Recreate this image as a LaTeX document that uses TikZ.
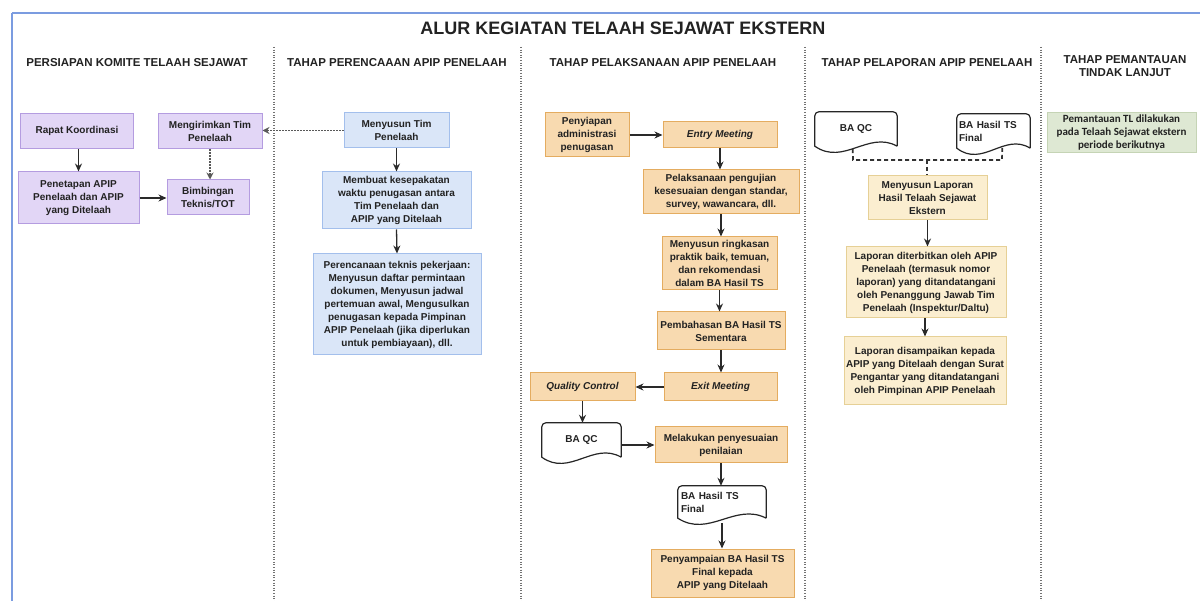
\documentclass[tikz,border=0pt]{standalone}
\usepackage{fontspec}
\setmainfont{Liberation Sans}
\newfontfamily\calib{Carlito}
\usetikzlibrary{arrows.meta,calc}
\definecolor{pfill}{HTML}{E2D6F6}
\definecolor{pline}{HTML}{B49CE0}
\definecolor{bfill}{HTML}{DAE6F8}
\definecolor{bline}{HTML}{A3BFEC}
\definecolor{ofill}{HTML}{F8DAB0}
\definecolor{oline}{HTML}{E4AC60}
\definecolor{yfill}{HTML}{FBEED0}
\definecolor{yline}{HTML}{E6D096}
\definecolor{gfill}{HTML}{DEE8D3}
\definecolor{gline}{HTML}{C5D4B5}
\definecolor{framec}{HTML}{7B9CE0}
\definecolor{txt}{HTML}{222222}
\definecolor{arrc}{HTML}{2A2A2A}
\newcommand\bxfont{\bfseries\fontsize{10}{13}\selectfont}
\newcommand\hdfont{\bfseries\fontsize{11.5}{13.5}\selectfont}
\newcommand\docout[1]{\draw[docline] (#1.south east) [rounded corners=4pt] -- (#1.north east) -- (#1.north west) [sharp corners] -- (#1.south west) .. controls ($(#1.south west)!0.35!(#1.south east)+(0,20)$) and ($(#1.south west)!0.65!(#1.south east)+(0,-16)$) .. (#1.south east);}
\tikzset{
  box/.style={draw, line width=1pt, align=center, font=\bxfont, text=txt, inner sep=2pt},
  pbox/.style={box, fill=pfill, draw=pline},
  bbox/.style={box, fill=bfill, draw=bline},
  obox/.style={box, fill=ofill, draw=oline},
  ybox/.style={box, fill=yfill, draw=yline},
  gbox/.style={box, fill=gfill, draw=gline, font=\calib\bfseries\fontsize{11}{13}\selectfont},
  docnode/.style={draw=none, font=\bxfont, text=txt, inner sep=2pt},
  docline/.style={draw=black!85, line width=1.2pt},
  arr/.style={draw=arrc, line width=1.3pt, -{Stealth[length=8pt,width=7pt]}},
  dotarr/.style={draw=black!65, line width=1.2pt, dash pattern=on 1.5pt off 1.5pt, -{Stealth[length=7pt,width=7pt]}},
  dashcon/.style={draw=black!80, line width=1.7pt, dash pattern=on 4pt off 3pt},
  divider/.style={draw=black!55, line width=1.1pt, dash pattern=on 1pt off 1.6pt},
  frameline/.style={draw=framec, line width=1.5pt},
  hdr/.style={font=\hdfont, text=txt, align=center}
}
\begin{document}
\begin{tikzpicture}[x=1pt,y=-1pt]
\useasboundingbox (0,0) rectangle (1200,601);
\fill[white] (0,0) rectangle (1200,601);
% frame and dividers
\draw[frameline] (12,13) -- (1200,13);
\draw[frameline] (12,13) -- (12,601);
\draw[divider] (274,47) -- (274,601);
\draw[divider] (521,47) -- (521,601);
\draw[divider] (805,47) -- (805,601);
\draw[divider] (1041,47) -- (1041,601);
% title and headers
\node[font=\bfseries\fontsize{18}{20}\selectfont, text=txt] (title) at (623,28) {ALUR KEGIATAN TELAAH SEJAWAT EKSTERN};
\node[hdr] (h1) at (137,63) {PERSIAPAN KOMITE TELAAH SEJAWAT};
\node[hdr] (h2) at (397,63) {TAHAP PERENCAAAN APIP PENELAAH};
\node[hdr] (h3) at (663,63) {TAHAP PELAKSANAAN APIP PENELAAH};
\node[hdr] (h4) at (927,63) {TAHAP PELAPORAN APIP PENELAAH};
\node[hdr] (h5) at (1125,66) {TAHAP PEMANTAUAN\\TINDAK LANJUT};
% lane 1
\node[pbox, minimum width=113, minimum height=35] (rk) at (77,131) {Rapat Koordinasi};
\node[pbox, minimum width=104, minimum height=35] (mt) at (210,131.5) {Mengirimkan Tim\\Penelaah};
\node[pbox, minimum width=121, minimum height=52] (pa) at (78.5,198) {Penetapan APIP\\Penelaah dan APIP\\yang Ditelaah};
\node[pbox, minimum width=82, minimum height=35] (bt) at (208,197.5) {Bimbingan\\Teknis/TOT};
% lane 2
\node[bbox, minimum width=105, minimum height=35] (mtp) at (396.5,130.5) {Menyusun Tim\\Penelaah};
\node[bbox, minimum width=149, minimum height=57] (mk) at (396.5,200.5) {Membuat kesepakatan\\waktu penugasan antara\\Tim Penelaah dan\\APIP yang Ditelaah};
\node[bbox, minimum width=168, minimum height=101] (pt) at (397,304.5) {Perencanaan teknis pekerjaan:\\Menyusun daftar permintaan\\dokumen, Menyusun jadwal\\pertemuan awal, Mengusulkan\\penugasan kepada Pimpinan\\APIP Penelaah (jika diperlukan\\untuk pembiayaan), dll.};
% lane 3
\node[obox, minimum width=84, minimum height=44] (pap) at (587,135) {Penyiapan\\administrasi\\penugasan};
\node[obox, minimum width=114, minimum height=26] (em) at (720,135) {\itshape Entry Meeting};
\node[obox, minimum width=156, minimum height=44] (pp) at (721,192) {Pelaksanaan pengujian\\kesesuaian dengan standar,\\survey, wawancara, dll.};
\node[obox, minimum width=115, minimum height=53] (mr) at (719.5,263.5) {Menyusun ringkasan\\praktik baik, temuan,\\dan rekomendasi\\dalam BA Hasil TS};
\node[obox, minimum width=128, minimum height=38] (pb) at (721,331) {Pembahasan BA Hasil TS\\Sementara};
\node[obox, minimum width=113, minimum height=28] (xm) at (720.5,387) {\itshape Exit Meeting};
\node[obox, minimum width=105, minimum height=28] (qc) at (582.5,387) {\itshape Quality Control};
\node[docnode, minimum width=79, minimum height=34] (bqc) at (581.5,440) {BA QC};
\docout{bqc}
\node[obox, minimum width=132, minimum height=36] (ms) at (721,445) {Melakukan penyesuaian\\penilaian};
\node[docnode, minimum width=88, minimum height=32, text width=82, align=left] (baf) at (722,502) {BA Hasil TS\\Final};
\docout{baf}
\node[obox, minimum width=143, minimum height=48] (ps) at (722.5,573) {Penyampaian BA Hasil TS\\Final kepada\\APIP yang Ditelaah};
% lane 4
\node[docnode, minimum width=82, minimum height=34] (bq2) at (856,129) {BA QC};
\docout{bq2}
\node[docnode, minimum width=73, minimum height=34, text width=69, align=left] (bf2) at (993.5,131) {BA Hasil TS\\Final};
\docout{bf2}
\node[ybox, minimum width=119, minimum height=44] (ml) at (927.5,198) {Menyusun Laporan\\Hasil Telaah Sejawat\\Ekstern};
\node[ybox, minimum width=160, minimum height=71] (ld) at (926,282.5) {Laporan diterbitkan oleh APIP\\Penelaah (termasuk nomor\\laporan) yang ditandatangani\\oleh Penanggung Jawab Tim\\Penelaah (Inspektur/Daltu)};
\node[ybox, minimum width=162, minimum height=68] (ls) at (925,371) {Laporan disampaikan kepada\\APIP yang Ditelaah dengan Surat\\Pengantar yang ditandatangani\\oleh Pimpinan APIP Penelaah};
% lane 5
\node[gbox, minimum width=149, minimum height=40] (pm) at (1121.5,133) {Pemantauan TL dilakukan\\pada Telaah Sejawat ekstern\\periode berikutnya};
% connectors lane 1/2
\draw[arr] (rk.south -| pa.north) -- (pa.north);
\draw[arr] (pa.east) -- (pa.east -| bt.west);
\draw[dotarr] (mt.south) -- (mt.south |- bt.north);
\draw[dotarr] (mtp.west) -- (mtp.west -| mt.east);
\draw[arr] (mtp.south) -- (mk.north);
\draw[arr] (mk.south) -- (pt.north);
% lane 3
\draw[arr] (pap.east) -- (pap.east -| em.west);
\draw[arr] (em.south) -- (em.south |- pp.north);
\draw[arr] (pp.south) -- (pp.south |- mr.north);
\draw[arr] (mr.south) -- (mr.south |- pb.north);
\draw[arr] (pb.south) -- (pb.south |- xm.north);
\draw[arr] (xm.west) -- (qc.east);
\draw[arr] (qc.south) -- (qc.south |- bqc.north);
\draw[arr] (bqc.east |- ms.west) -- (ms.west);
\draw[arr] (ms.south) -- (ms.south |- baf.north);
\draw[arr] ($(baf.south)+(0,5)$) -- (baf.south |- ps.north);
% lane 4
\coordinate (j1) at (853,160);
\coordinate (j2) at (1002,160);
\coordinate (jm) at (927,160);
\draw[dashcon] ($(bq2.south west)!0.46!(bq2.south east)+(0,3)$) -- (j1) -- (j2) -- ($(bf2.south west)!0.62!(bf2.south east)+(0,-2)$);
\draw[dashcon] (jm) -- (jm |- ml.north);
\draw[arr] (ml.south) -- (ml.south |- ld.north);
\draw[arr] (ld.south -| ls.north) -- (ls.north);
\end{tikzpicture}
\end{document}
